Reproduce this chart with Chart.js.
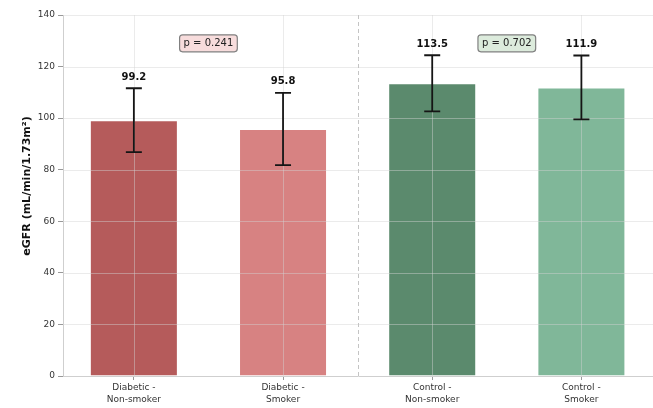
<!DOCTYPE html>
<html><head><meta charset="utf-8">
<script src="https://cdn.jsdelivr.net/npm/chart.js@4"></script>
<style>html,body{margin:0;padding:0;background:#fff;overflow:hidden}</style>
</head>
<body>
<canvas id="c" width="653" height="408"></canvas>
<script>
const categories = ['Diabetic -\nNon-smoker', 'Diabetic -\nSmoker', 'Control -\nNon-smoker', 'Control -\nSmoker'];
const meanValues = [99.2, 95.8, 113.5, 111.9];
const sdValues = [12.4, 14.0, 10.9, 12.4];
const valueLabels = ['99.2', '95.8', '113.5', '111.9'];
const barColors = ['#b55b5b', '#d78282', '#5b8a6d', '#80b799'];
const yTicks = [0, 20, 40, 60, 80, 100, 120, 140];
const pLabels = ['p = 0.241', 'p = 0.702'];
const pPositions = [0.5, 2.5];
const pFills = ['#f7dcdc', '#dcebdc'];
const pYValue = 129;
const dividerPosition = 1.5;
const yTitle = 'eGFR (mL/min/1.73m\u00b2)';

const FONT = '"DejaVu Sans", "Liberation Sans", sans-serif';

const overlay = {
  id: 'overlay',
  afterDatasetsDraw(chart) {
    const { ctx, chartArea: a, scales: { x, y } } = chart;
    ctx.save();
    ctx.strokeStyle = 'rgba(210,210,210,0.45)';
    ctx.lineWidth = 1;
    yTicks.forEach(v => {
      if (v === 0) return;
      const py = Math.round(y.getPixelForValue(v)) + 0.5;
      ctx.beginPath(); ctx.moveTo(a.left, py); ctx.lineTo(a.right, py); ctx.stroke();
    });
    categories.forEach((c, i) => {
      const px = Math.round(x.getPixelForValue(i)) + 0.5;
      ctx.beginPath(); ctx.moveTo(px, a.top); ctx.lineTo(px, a.bottom); ctx.stroke();
    });
    ctx.strokeStyle = '#c4c4c4';
    ctx.setLineDash([4, 3]);
    const dx = Math.round(x.getPixelForValue(dividerPosition)) + 0.5;
    ctx.beginPath(); ctx.moveTo(dx, a.top); ctx.lineTo(dx, a.bottom); ctx.stroke();
    ctx.setLineDash([]);
    ctx.strokeStyle = '#151515';
    ctx.lineWidth = 1.8;
    meanValues.forEach((m, i) => {
      const px = x.getPixelForValue(i);
      const top = y.getPixelForValue(m + sdValues[i]);
      const bot = y.getPixelForValue(m - sdValues[i]);
      ctx.beginPath();
      ctx.moveTo(px, top); ctx.lineTo(px, bot);
      ctx.moveTo(px - 8, top); ctx.lineTo(px + 8, top);
      ctx.moveTo(px - 8, bot); ctx.lineTo(px + 8, bot);
      ctx.stroke();
      ctx.fillStyle = '#111';
      ctx.font = 'bold 10px ' + FONT;
      ctx.textAlign = 'center';
      ctx.textBaseline = 'middle';
      ctx.fillText(valueLabels[i], px, top - 11);
    });
    ctx.font = '10px ' + FONT;
    pLabels.forEach((t, i) => {
      const px = x.getPixelForValue(pPositions[i]);
      const py = y.getPixelForValue(pYValue);
      const w = ctx.measureText(t).width + 8;
      const h = 17;
      ctx.beginPath();
      ctx.roundRect(px - w / 2, py - h / 2, w, h, 3);
      ctx.fillStyle = pFills[i];
      ctx.fill();
      ctx.strokeStyle = '#808080';
      ctx.lineWidth = 1.2;
      ctx.stroke();
      ctx.fillStyle = '#222';
      ctx.textAlign = 'center';
      ctx.textBaseline = 'middle';
      ctx.fillText(t, px, py + 0.5);
    });
    ctx.save();
    ctx.translate(27, 186);
    ctx.rotate(-Math.PI / 2);
    ctx.font = 'bold 11px ' + FONT;
    ctx.fillStyle = '#111';
    ctx.textAlign = 'center';
    ctx.textBaseline = 'middle';
    ctx.fillText(yTitle, 0, 0);
    ctx.restore();
    ctx.restore();
  }
};

new Chart(document.getElementById('c'), {
  type: 'bar',
  data: {
    datasets: [{
      data: meanValues.map((v, i) => ({ x: i, y: v })),
      backgroundColor: barColors,
      borderColor: 'rgba(255,255,255,0.35)',
      borderWidth: 1,
      barPercentage: 0.59,
      categoryPercentage: 1
    }]
  },
  options: {
    responsive: false,
    animation: false,
    devicePixelRatio: 1,
    layout: { padding: { top: 15, right: 0, left: 0, bottom: 0 } },
    plugins: { legend: { display: false }, tooltip: { enabled: false } },
    scales: {
      x: {
        type: 'linear',
        min: -0.475,
        max: 3.48,
        offset: false,
        afterBuildTicks: s => { s.ticks = categories.map((c, i) => ({ value: i })); },
        afterFit: s => { s.height = 32; },
        grid: { drawOnChartArea: false, offset: false, drawTicks: true, tickLength: 4, tickColor: '#999' },
        border: { display: true, color: '#cfcfcf', width: 1 },
        ticks: {
          autoSkip: false,
          maxRotation: 0,
          padding: 1,
          color: '#333',
          font: { family: FONT, size: 9, lineHeight: 1.4 },
          callback: v => categories[v] ? categories[v].split('\n') : ''
        }
      },
      y: {
        min: 0,
        max: 140,
        afterBuildTicks: s => { s.ticks = yTicks.map(v => ({ value: v })); },
        afterFit: s => { s.width = 63; },
        grid: { drawOnChartArea: false, drawTicks: true, tickLength: 5, tickColor: '#999' },
        border: { display: true, color: '#cfcfcf', width: 1 },
        ticks: { padding: 3, color: '#333', font: { family: FONT, size: 9 } }
      }
    }
  },
  plugins: [overlay]
});
</script>
</body></html>
